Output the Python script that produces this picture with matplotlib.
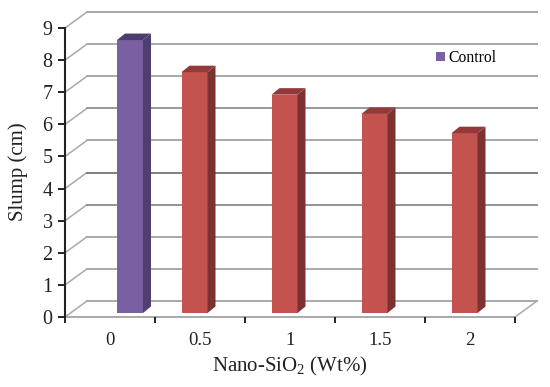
import matplotlib
matplotlib.use("Agg")
import matplotlib.pyplot as plt
from matplotlib.patches import Polygon

categories = ["0", "0.5", "1", "1.5", "2"]
control_idx = [0]
control_vals = [8.5]
mix_idx = [1, 2, 3, 4]
mix_vals = [7.5, 6.8, 6.2, 5.6]
y_ticks = list(range(10))

plt.rcParams["font.family"] = ["Liberation Serif", "DejaVu Serif"]
plt.rcParams["mathtext.fontset"] = "custom"
plt.rcParams["mathtext.rm"] = "Liberation Serif"
plt.rcParams["mathtext.default"] = "rm"

W, H = 550, 387
fig = plt.figure(figsize=(W / 100, H / 100), dpi=100)
ax = fig.add_axes([65 / W, 1 - 317 / H, 450 / W, 289 / H])
ax.set_xlim(0, 5)
ax.set_ylim(0, 9)

PX = 5 / 450
PY = 9 / 289
wall_dx, wall_dy = 22 * PX, 16 * PY
depth_dx, depth_dy = 8 * PX, 6.5 * PY
bar_w = 26 * PX
base = 4 * PY

GRID = "#a9a9a9"
DARK = {4: "#7f7f7f", 6: "#979797", 3: "#949494"}
for v in y_ticks:
    c = DARK.get(v, GRID)
    ax.plot([0, wall_dx], [v, v + wall_dy], color=GRID, lw=1.1, clip_on=False, zorder=1)
    ax.plot([wall_dx, 5 + wall_dx], [v + wall_dy] * 2, color=c, lw=1.4, clip_on=False, zorder=1)
ax.plot([0, 5], [0, 0], color=GRID, lw=1.4, clip_on=False, zorder=1)
ax.plot([5, 5 + wall_dx], [0, wall_dy], color=GRID, lw=1.1, clip_on=False, zorder=1)


def draw(idx, vals, offset, face, side, top, label=None):
    xs = [i + 0.5 + offset for i in idx]
    ax.bar(xs, vals, width=bar_w, bottom=base, color=face, label=label, zorder=3, clip_on=False)
    for x, v in zip(xs, vals):
        r = x + bar_w / 2
        l = x - bar_w / 2
        t = v + base
        ax.add_patch(Polygon([(r, base), (r + depth_dx, base + depth_dy), (r + depth_dx, t + depth_dy), (r, t)],
                             closed=True, fc=side, ec="none", zorder=3, clip_on=False))
        ax.add_patch(Polygon([(l, t), (l + depth_dx, t + depth_dy), (r + depth_dx, t + depth_dy), (r, t)],
                             closed=True, fc=top, ec="none", zorder=3, clip_on=False))


draw(control_idx, control_vals, 20 * PX, "#7a5fa3", "#4f3f70", "#4d3d6e", label="Control")
draw(mix_idx, mix_vals, -5.5 * PX, "#c4524f", "#7d3232", "#93393a")

for s in ("top", "right", "bottom"):
    ax.spines[s].set_visible(False)
ax.spines["left"].set_linewidth(1.5)
ax.spines["left"].set_color("#222222")

ax.set_yticks(y_ticks)
ax.set_xticks(range(6))
ax.set_xticklabels([])
ax.set_xticks([i + 0.5 for i in range(5)], minor=True)
ax.set_xticklabels(categories, minor=True, fontsize=13.5, color="#222222")
ax.tick_params(axis="x", which="minor", length=0, pad=11)
ax.tick_params(axis="x", which="major", length=4, width=1.4, color="#222222")
ax.tick_params(axis="y", length=5, width=1.4, color="#222222", labelsize=14.5, labelcolor="#222222", pad=4)

ax.set_xlabel("Nano-SiO$_2$ (Wt%)", fontsize=15, color="#222222")
ax.xaxis.set_label_coords(225 / 450, -38 / 289)
ax.set_ylabel("Slump (cm)", fontsize=15, color="#222222")
ax.yaxis.set_label_coords(-37 / 450, 145 / 289)

ax.legend(loc="center left", bbox_to_anchor=(371 / 450, (317 - 58) / 289), frameon=False,
          fontsize=11.3, handlelength=0.58, handleheight=0.58, handletextpad=0.2,
          borderpad=0, borderaxespad=0)

fig.savefig("out.png", dpi=100)
